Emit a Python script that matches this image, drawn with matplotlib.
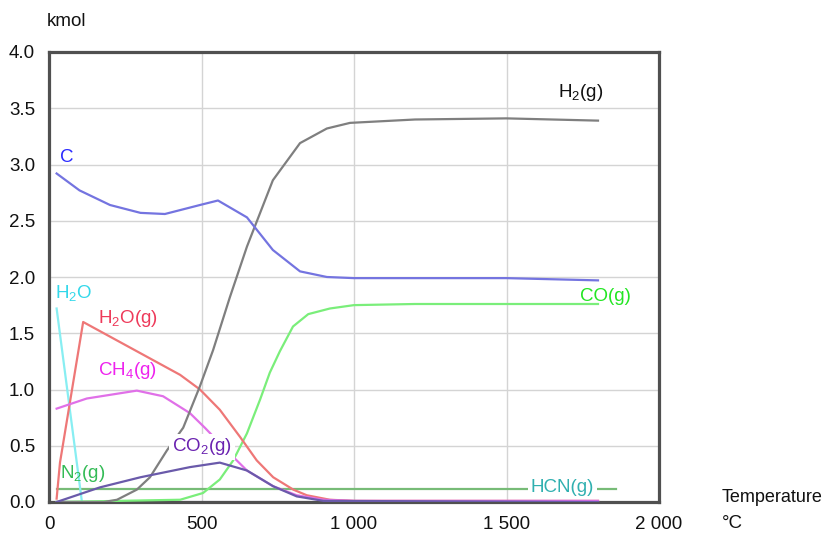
import matplotlib
matplotlib.use("Agg")
import matplotlib.pyplot as plt
from matplotlib import font_manager

# ---------------- data ----------------
c_T = [25, 100, 200, 300, 380, 495, 554, 649, 734, 823, 911, 1000, 1500, 1800]
c_v = [2.92, 2.77, 2.64, 2.57, 2.56, 2.64, 2.68, 2.53, 2.24, 2.05, 2.00, 1.99, 1.99, 1.97]

h2_T = [25, 180, 223, 288, 331, 387, 440, 495, 538, 593, 649, 734, 823, 911, 987, 1200, 1500, 1800]
h2_v = [0.0, 0.0, 0.02, 0.11, 0.22, 0.46, 0.66, 1.03, 1.35, 1.82, 2.27, 2.86, 3.19, 3.32, 3.37, 3.40, 3.41, 3.39]

h2o_T = [25, 108]
h2o_v = [1.72, 0.0]

h2og_T = [25, 36, 112, 430, 495, 560, 626, 681, 735, 801, 845, 921, 1000, 1800]
h2og_v = [0.03, 0.35, 1.60, 1.13, 1.00, 0.82, 0.58, 0.37, 0.22, 0.11, 0.06, 0.02, 0.01, 0.01]

ch4_T = [25, 124, 288, 374, 462, 511, 593, 649, 735, 812, 900, 1000, 1800]
ch4_v = [0.83, 0.92, 0.99, 0.94, 0.79, 0.66, 0.43, 0.28, 0.14, 0.06, 0.02, 0.01, 0.01]

co2_T = [25, 167, 300, 462, 560, 649, 735, 812, 900, 1800]
co2_v = [0.0, 0.13, 0.22, 0.31, 0.35, 0.28, 0.14, 0.05, 0.01, 0.0]

co_T = [25, 430, 505, 560, 604, 649, 692, 724, 757, 800, 850, 921, 1000, 1200, 1800]
co_v = [0.0, 0.02, 0.08, 0.20, 0.37, 0.61, 0.91, 1.15, 1.34, 1.56, 1.67, 1.72, 1.75, 1.76, 1.76]

n2_T = [25, 1860]
n2_v = [0.12, 0.12]

hcn_T = [25, 1800]
hcn_v = [0.0, 0.0]

y_ticks = [0.0, 0.5, 1.0, 1.5, 2.0, 2.5, 3.0, 3.5, 4.0]
x_ticks = [0, 500, 1000, 1500, 2000]
x_tick_labels = ["0", "500", "1 000", "1 500", "2 000"]

# ---------------- fonts ----------------
avail = {f.name for f in font_manager.fontManager.ttflist}
fam = [f for f in ["Liberation Sans Narrow", "Liberation Sans", "DejaVu Sans"] if f in avail]
plt.rcParams["font.family"] = fam
plt.rcParams["mathtext.fontset"] = "custom"
plt.rcParams["mathtext.rm"] = fam[0]
plt.rcParams["mathtext.it"] = fam[0]
plt.rcParams["mathtext.bf"] = fam[0]
plt.rcParams["mathtext.default"] = "rm"

FS = 13.5

fig = plt.figure(figsize=(8.30, 5.37), dpi=100)
ax = fig.add_axes([49 / 830, 35 / 537, 610 / 830, 450 / 537])

lw = 1.6
ax.plot(hcn_T, hcn_v, color="#2e2e8c", lw=2.2, zorder=2)
ax.plot(n2_T, n2_v, color="#77bb77", lw=lw, zorder=2)
ax.plot(h2o_T, h2o_v, color="#88eef2", lw=lw, zorder=3)
ax.plot(co_T, co_v, color="#7aee7a", lw=lw, zorder=3)
ax.plot(h2og_T, h2og_v, color="#ee7777", lw=lw, zorder=3)
ax.plot(ch4_T, ch4_v, color="#e070e8", lw=lw, zorder=3)
ax.plot(co2_T, co2_v, color="#6a5aaa", lw=lw, zorder=4)
ax.plot(h2_T, h2_v, color="#7f7f7f", lw=lw, zorder=3)
ax.plot(c_T, c_v, color="#7474e0", lw=lw, zorder=3)

ax.set_xlim(0, 2000)
ax.set_ylim(0, 4.0)
ax.set_yticks(y_ticks)
ax.set_yticklabels([f"{v:.1f}" for v in y_ticks])
ax.set_xticks(x_ticks)
ax.set_xticklabels(x_tick_labels)
ax.tick_params(axis="both", length=0, labelsize=FS, colors="#111111")
ax.tick_params(axis="y", pad=10)
ax.tick_params(axis="x", pad=10)
ax.grid(True, color="#d4d4d4", lw=1.0)
ax.set_axisbelow(True)
for s in ax.spines.values():
    s.set_color("#505050")
    s.set_linewidth(2.3)

box = dict(facecolor="white", edgecolor="none", pad=2.0)
labels = [
    ("C", 36, 3.06, "#2a2aff", None),
    ("H$_2$(g)", 1669, 3.64, "#111111", None),
    ("H$_2$O", 20, 1.86, "#33d8ea", None),
    ("H$_2$O(g)", 161, 1.63, "#ee3a5a", None),
    ("CH$_4$(g)", 161, 1.17, "#ee22ee", None),
    ("CO$_2$(g)", 403, 0.49, "#6a22b0", box),
    ("N$_2$(g)", 36, 0.25, "#33bb55", None),
    ("CO(g)", 1741, 1.83, "#22e622", None),
    ("HCN(g)", 1580, 0.13, "#30b0b0", box),
]
for txt, x, y, col, bb in labels:
    ax.text(x, y, txt, color=col, fontsize=FS, ha="left", va="center",
            bbox=bb, zorder=6)

fig.text(47 / 830, 1 - 22 / 537, "kmol", fontsize=FS, ha="left", va="center", color="#111111")
fig.text(722 / 830, 1 - 497 / 537, "Temperature", fontsize=13, ha="left", va="center", color="#111111")
fig.text(722 / 830, 1 - 523 / 537, "°C", fontsize=FS, ha="left", va="center", color="#111111")

fig.savefig("out.png", dpi=100)
